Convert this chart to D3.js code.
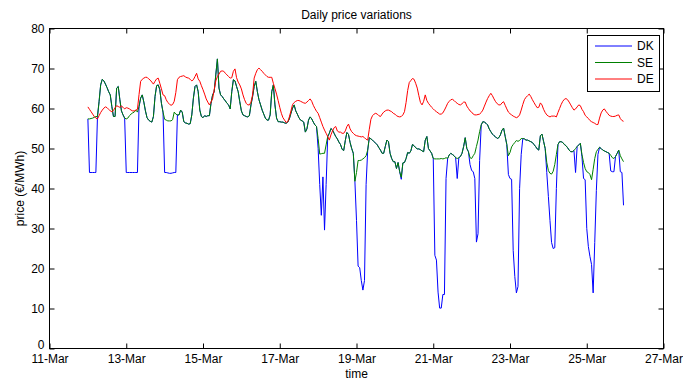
<!DOCTYPE html>
<html>
<head>
<meta charset="utf-8">
<script src="https://cdn.jsdelivr.net/npm/d3@7"></script>
<style>
  body { margin: 0; background: #fff; }
  svg { display: block; }
  text { font-family: "Liberation Sans", Arial, Helvetica, sans-serif; fill: #000; }
</style>
</head>
<body>
<svg id="chart" width="683" height="381"></svg>
<script>
// Hourly day-ahead prices, first sample 12-Mar 00:00, one value per hour.
const startTime = Date.UTC(2013, 2, 12, 0);
const HOUR = 3600 * 1000;

const seriesNames = ["DK", "SE", "DE"];
const seriesColors = ["#0000ff", "#008000", "#ff0000"];

const xTickDays = [11, 13, 15, 17, 19, 21, 23, 25, 27];
const xTickLabels = ["11-Mar", "13-Mar", "15-Mar", "17-Mar", "19-Mar", "21-Mar", "23-Mar", "25-Mar", "27-Mar"];
const yTickValues = [0, 10, 20, 30, 40, 50, 60, 70, 80];

// price (EUR/MWh), one row per day
const dk = [
  57.4, 44.0, 44.0, 44.0, 44.0, 44.0, 58.0, 61.7, 65.9, 67.3, 66.9, 66.1, 65.2, 64.2, 63.4, 60.5, 58.0, 58.0, 65.1, 65.5, 62.2, 59.4, 58.4, 57.6,
  44.0, 44.0, 44.0, 44.0, 44.0, 44.0, 44.0, 44.0, 60.5, 62.6, 63.4, 61.6, 59.4, 57.7, 57.1, 56.8, 56.6, 58.0, 63.0, 65.7, 65.9, 64.7, 61.3, 59.1,
  44.0, 44.0, 43.9, 43.8, 43.8, 43.9, 44.0, 44.0, 58.4, 58.4, 59.6, 59.1, 56.7, 56.4, 56.3, 56.1, 56.2, 58.4, 62.6, 65.5, 65.9, 64.2, 59.6, 58.0,
  57.7, 58.2, 58.0, 58.2, 58.2, 61.3, 63.4, 64.2, 68.4, 72.4, 65.1, 63.4, 63.0, 62.4, 61.9, 61.3, 60.9, 59.9, 64.2, 67.2, 66.9, 65.5, 64.2, 61.7,
  59.4, 58.4, 58.2, 58.0, 57.9, 58.2, 60.9, 63.0, 65.5, 66.8, 64.2, 62.2, 60.9, 59.6, 58.6, 57.6, 57.1, 57.1, 58.4, 64.2, 65.9, 60.9, 57.6, 56.7,
  56.7, 56.6, 56.6, 56.4, 56.3, 56.6, 57.4, 58.8, 60.1, 60.9, 59.4, 58.6, 57.7, 57.1, 56.9, 56.6, 54.1, 54.9, 57.1, 57.9, 57.4, 56.6, 55.9, 55.5,
  50.0, 41.0, 33.3, 42.9, 29.6, 41.0, 53.0, 53.8, 55.0, 54.6, 53.8, 53.0, 52.4, 51.6, 51.0, 49.8, 49.5, 52.0, 54.0, 53.5, 51.5, 50.0, 48.8, 41.8,
  32.0, 20.6, 20.2, 17.0, 14.6, 17.0, 41.0, 49.6, 52.7, 52.4, 52.1, 51.7, 51.3, 50.9, 50.2, 49.6, 48.8, 48.8, 50.5, 52.1, 51.7, 48.8, 47.5, 46.7,
  46.7, 45.0, 46.5, 44.2, 42.3, 46.4, 46.5, 47.5, 49.0, 48.8, 49.4, 51.0, 50.7, 50.2, 49.9, 49.9, 49.7, 49.4, 49.2, 52.1, 53.0, 50.0, 49.4, 48.8,
  47.5, 23.3, 22.1, 14.1, 10.1, 10.1, 13.5, 13.5, 42.5, 47.5, 48.4, 48.8, 48.5, 48.2, 47.7, 42.5, 47.7, 48.0, 48.8, 50.5, 52.7, 50.0, 49.2, 46.0,
  44.5, 44.2, 42.5, 26.6, 28.7, 47.0, 55.9, 56.7, 56.6, 56.3, 55.9, 54.9, 54.2, 53.6, 53.2, 52.9, 52.5, 52.7, 53.4, 54.6, 55.1, 53.0, 51.0, 43.5,
  42.5, 42.3, 24.5, 18.0, 13.9, 15.5, 40.0, 48.5, 52.5, 52.4, 52.1, 52.1, 51.9, 51.7, 51.5, 51.0, 50.5, 49.9, 49.6, 53.2, 53.6, 51.8, 50.0, 44.0,
  38.0, 32.0, 26.5, 25.0, 25.2, 40.0, 51.0, 51.7, 51.7, 51.5, 51.0, 50.7, 50.2, 49.6, 49.2, 49.2, 49.5, 44.0, 50.5, 50.9, 51.3, 48.0, 42.5, 42.2,
  30.0, 25.5, 23.0, 21.0, 13.9, 26.5, 39.5, 48.5, 50.3, 50.0, 49.6, 49.4, 49.2, 49.0, 48.8, 44.4, 44.2, 44.2, 48.0, 48.8, 49.6, 44.2, 44.0, 35.8
];

const se = [
  57.4, 57.4, 57.5, 57.6, 57.8, 58.0, 58.0, 61.7, 65.9, 67.3, 66.9, 66.1, 65.2, 64.2, 63.4, 60.5, 58.0, 58.0, 65.1, 65.5, 62.2, 59.4, 58.4, 57.6,
  57.4, 57.6, 58.2, 58.6, 58.9, 59.1, 59.6, 59.1, 60.5, 62.6, 63.4, 61.6, 59.4, 57.7, 57.1, 56.8, 56.6, 58.0, 63.0, 65.7, 65.9, 64.7, 61.3, 59.1,
  57.3, 57.1, 56.9, 56.9, 56.9, 57.2, 59.1, 58.6, 58.4, 58.4, 59.6, 59.1, 56.7, 56.4, 56.3, 56.1, 56.2, 58.4, 62.6, 65.5, 65.9, 64.2, 59.6, 58.0,
  57.7, 58.2, 58.0, 58.2, 58.2, 61.3, 63.4, 64.2, 68.4, 72.4, 65.1, 63.4, 63.0, 62.4, 61.9, 61.3, 60.9, 59.9, 64.2, 67.2, 66.9, 65.5, 64.2, 61.7,
  59.4, 58.4, 58.2, 58.0, 57.9, 58.2, 60.9, 63.0, 65.5, 66.8, 64.2, 62.2, 60.9, 59.6, 58.6, 57.6, 57.1, 57.1, 58.4, 64.2, 65.9, 60.9, 57.6, 56.7,
  56.7, 56.6, 56.6, 56.4, 56.3, 56.6, 57.4, 58.8, 60.1, 60.9, 59.4, 58.6, 57.7, 57.1, 56.9, 56.6, 54.1, 54.9, 57.1, 57.9, 57.4, 56.6, 55.9, 55.5,
  52.5, 48.6, 48.7, 48.8, 48.8, 50.9, 53.0, 53.8, 55.0, 54.6, 53.8, 53.0, 52.4, 51.6, 51.0, 49.8, 49.5, 52.0, 54.0, 53.5, 51.5, 50.0, 48.8, 41.8,
  44.0, 47.0, 47.0, 47.1, 47.4, 47.7, 48.2, 49.6, 52.7, 52.4, 52.1, 51.7, 51.3, 50.9, 50.2, 49.6, 48.8, 48.8, 50.5, 52.1, 51.7, 48.8, 47.5, 46.7,
  46.7, 45.0, 46.5, 44.2, 42.8, 46.4, 46.5, 47.5, 49.0, 48.8, 49.4, 51.0, 50.7, 50.2, 49.9, 49.9, 49.7, 49.4, 49.2, 52.1, 53.0, 50.0, 49.4, 48.8,
  47.5, 47.4, 47.4, 47.4, 47.4, 47.5, 47.4, 47.5, 47.7, 47.5, 48.4, 48.8, 48.5, 48.2, 47.7, 47.5, 47.7, 48.0, 48.8, 50.5, 52.7, 50.0, 49.2, 47.7,
  47.5, 48.2, 48.8, 50.5, 52.1, 54.2, 55.9, 56.7, 56.6, 56.3, 55.9, 54.9, 54.2, 53.6, 53.2, 52.9, 52.5, 52.7, 53.4, 54.6, 55.1, 53.0, 51.0, 48.2,
  49.0, 50.4, 51.0, 51.5, 52.0, 51.8, 52.0, 52.5, 52.5, 52.4, 52.1, 52.1, 51.9, 51.7, 51.5, 51.0, 50.5, 49.9, 49.6, 53.2, 53.6, 51.8, 50.0, 46.5,
  44.5, 43.8, 43.6, 44.3, 46.0, 48.5, 51.0, 51.7, 51.7, 51.5, 51.0, 50.7, 50.2, 49.6, 49.2, 49.2, 49.5, 50.0, 50.5, 50.9, 51.3, 48.5, 46.5, 45.0,
  44.2, 44.0, 43.5, 42.2, 44.8, 47.5, 49.2, 49.8, 50.3, 50.0, 49.6, 49.4, 49.2, 49.0, 48.8, 48.3, 47.7, 47.5, 48.0, 48.8, 49.6, 48.2, 47.4, 46.7
];

const de = [
  60.4, 59.8, 59.2, 58.6, 58.0, 57.6, 57.4, 58.2, 59.0, 59.6, 60.1, 60.4, 60.2, 59.8, 59.4, 59.2, 59.5, 60.2, 60.7, 60.5, 60.3, 60.6, 60.3, 59.9,
  60.2, 60.1, 59.9, 59.6, 59.4, 59.4, 59.6, 59.8, 63.5, 66.8, 67.3, 67.6, 67.8, 67.8, 67.4, 67.1, 66.6, 66.1, 66.8, 67.4, 67.6, 66.3, 64.9, 63.4,
  63.2, 62.2, 61.5, 61.1, 60.8, 61.0, 61.8, 64.0, 67.2, 67.8, 68.0, 68.1, 68.2, 67.9, 67.7, 67.6, 67.3, 66.9, 67.2, 68.0, 68.8, 67.4, 66.8, 65.7,
  64.7, 63.6, 62.4, 61.6, 60.9, 61.6, 62.4, 64.7, 66.9, 68.0, 68.6, 69.3, 69.4, 69.3, 68.8, 68.4, 68.0, 67.6, 67.7, 69.3, 69.9, 67.7, 66.6, 65.9,
  64.9, 63.4, 62.2, 61.3, 60.9, 60.9, 61.6, 63.4, 67.6, 68.8, 69.7, 70.1, 69.7, 69.3, 68.8, 68.4, 68.0, 67.8, 67.8, 67.8, 66.3, 65.0, 63.6, 62.0,
  60.3, 58.8, 57.7, 57.1, 56.5, 56.7, 57.9, 59.4, 61.0, 61.5, 61.8, 62.0, 62.0, 61.8, 61.6, 61.4, 61.3, 61.6, 62.0, 62.4, 61.8, 60.8, 60.0, 59.3,
  58.8, 57.7, 56.6, 55.5, 54.6, 53.8, 53.0, 52.1, 53.4, 54.4, 55.2, 55.5, 54.4, 54.1, 54.1, 53.8, 53.8, 54.4, 55.5, 56.1, 54.9, 54.2, 53.8, 53.4,
  53.2, 53.1, 53.0, 52.9, 53.0, 52.7, 52.3, 52.1, 54.8, 57.3, 58.2, 58.6, 58.8, 58.6, 58.2, 58.0, 58.6, 59.1, 59.4, 59.6, 59.6, 59.4, 59.2, 58.8,
  58.6, 58.2, 58.0, 57.9, 58.0, 58.4, 59.2, 61.5, 64.5, 66.5, 67.0, 67.5, 67.3, 66.3, 65.1, 63.2, 61.5, 60.9, 61.8, 63.4, 62.0, 61.3, 60.8, 60.3,
  59.9, 59.5, 59.2, 58.9, 58.6, 58.6, 58.9, 59.6, 60.4, 61.3, 61.8, 62.2, 62.3, 62.0, 61.6, 61.3, 61.0, 60.9, 61.2, 61.6, 61.6, 60.6, 60.0, 59.4,
  59.1, 58.6, 58.4, 58.4, 58.5, 58.6, 59.0, 59.6, 60.6, 61.6, 62.5, 63.2, 63.8, 63.2, 62.4, 61.7, 61.2, 60.9, 60.9, 61.4, 61.7, 60.8, 59.9, 59.1,
  58.7, 58.4, 58.1, 57.9, 57.7, 57.9, 58.4, 59.6, 61.0, 62.2, 62.8, 63.2, 63.6, 63.0, 62.2, 61.5, 60.8, 60.2, 60.3, 61.4, 60.9, 59.8, 59.0, 58.4,
  58.1, 57.9, 58.1, 58.1, 58.1, 57.9, 59.0, 60.0, 61.0, 61.8, 62.3, 62.5, 62.2, 61.6, 60.9, 60.2, 59.6, 59.9, 60.4, 60.9, 60.7, 59.8, 59.2, 58.3,
  57.9, 57.5, 57.0, 56.7, 56.5, 56.3, 56.0, 56.0, 57.6, 58.9, 59.6, 59.9, 59.3, 58.8, 58.3, 58.1, 58.0, 58.0, 58.1, 58.3, 58.4, 57.5, 57.0, 56.8
];

const seriesValues = [dk, se, de];

// ---- layout ----
const plot = { left: 49.5, right: 663.5, top: 28.5, bottom: 348.5 };
const svg = d3.select("#chart");

const x = d3.scaleUtc()
  .domain([Date.UTC(2013, 2, 11), Date.UTC(2013, 2, 27)])
  .range([plot.left, plot.right]);
const y = d3.scaleLinear()
  .domain([0, 80])
  .range([plot.bottom, plot.top]);

const xTickDates = xTickDays.map(d => new Date(Date.UTC(2013, 2, d)));
const tickLen = 5;

// bottom axis with labels, ticks pointing into the plot
const gx = svg.append("g")
  .attr("transform", `translate(0,${plot.bottom})`)
  .call(d3.axisBottom(x).tickValues(xTickDates)
    .tickFormat((d, i) => xTickLabels[i])
    .tickSizeInner(-tickLen).tickSizeOuter(0).tickPadding(5.5));
// top mirror ticks
const gxt = svg.append("g")
  .attr("transform", `translate(0,${plot.top})`)
  .call(d3.axisTop(x).tickValues(xTickDates).tickFormat("")
    .tickSizeInner(-tickLen).tickSizeOuter(0));
// left axis with labels
const gy = svg.append("g")
  .attr("transform", `translate(${plot.left},0)`)
  .call(d3.axisLeft(y).tickValues(yTickValues)
    .tickFormat(d3.format("d"))
    .tickSizeInner(-tickLen).tickSizeOuter(0).tickPadding(5));
// right mirror ticks
const gyr = svg.append("g")
  .attr("transform", `translate(${plot.right},0)`)
  .call(d3.axisRight(y).tickValues(yTickValues).tickFormat("")
    .tickSizeInner(-tickLen).tickSizeOuter(0));

[gx, gxt, gy, gyr].forEach(g => {
  g.select(".domain").remove();
  g.selectAll("line").attr("stroke", "#000").attr("stroke-width", 1);
  g.selectAll("text").attr("font-size", 12).attr("fill", "#000")
    .attr("font-family", '"Liberation Sans", Arial, sans-serif');
});
// lift the zero label so it clears the date labels below
gy.selectAll(".tick").filter(d => d === 0).select("text").attr("dy", "-0.02em");

// series lines
const line = d3.line()
  .x((d, i) => x(new Date(startTime + i * HOUR)))
  .y(d => y(d));

svg.append("g").selectAll("path")
  .data(seriesValues)
  .join("path")
  .attr("d", d => line(d))
  .attr("fill", "none")
  .attr("stroke", (d, i) => seriesColors[i])
  .attr("stroke-width", 1)
  .attr("stroke-linejoin", "round");

// plot frame
svg.append("rect")
  .attr("x", plot.left).attr("y", plot.top)
  .attr("width", plot.right - plot.left).attr("height", plot.bottom - plot.top)
  .attr("fill", "none").attr("stroke", "#000").attr("stroke-width", 1);

// titles
const midX = (plot.left + plot.right) / 2;
svg.append("text").attr("x", midX).attr("y", 18.5)
  .attr("text-anchor", "middle").attr("font-size", 12)
  .text("Daily price variations");
svg.append("text").attr("x", midX).attr("y", 378)
  .attr("text-anchor", "middle").attr("font-size", 12)
  .text("time");
svg.append("text")
  .attr("transform", `translate(24,${(plot.top + plot.bottom) / 2}) rotate(-90)`)
  .attr("text-anchor", "middle").attr("font-size", 12)
  .text("price (€/MWh)");

// legend
const legend = svg.append("g").attr("transform", "translate(587.5,35.5)");
legend.append("rect").attr("width", 72).attr("height", 56)
  .attr("fill", "#fff").attr("stroke", "#000").attr("stroke-width", 1);
const rows = legend.selectAll("g.row").data(seriesNames).join("g")
  .attr("class", "row")
  .attr("transform", (d, i) => `translate(0,${10.5 + i * 16.5})`);
rows.append("line").attr("x1", 7.5).attr("x2", 44.5)
  .attr("stroke", (d, i) => seriesColors[i]).attr("stroke-width", 1);
rows.append("text").attr("x", 49.5).attr("dy", "0.36em")
  .attr("font-size", 12).text(d => d);
</script>
</body>
</html>
